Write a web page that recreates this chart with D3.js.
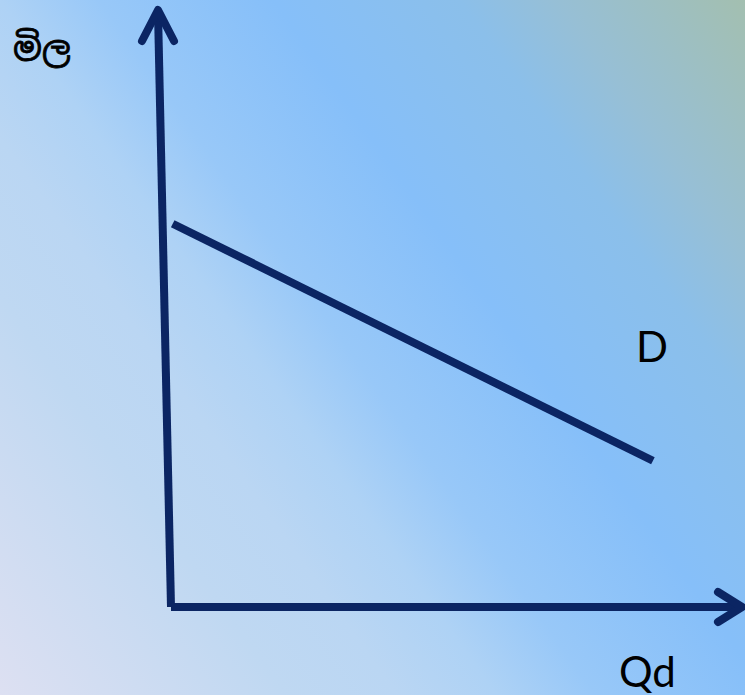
<!DOCTYPE html>
<html>
<head>
<meta charset="utf-8">
<script src="https://cdn.jsdelivr.net/npm/d3@7"></script>
<style>
  html, body { margin: 0; padding: 0; overflow: hidden; }
  svg { display: block; }
</style>
</head>
<body>
<div id="chart"><svg></svg></div>
<script>
// demand line (quantity 0-100, price 0-100)
const demandQty = [0.3, 84.4];
const demandPrice = [64.2, 24.5];

const axisLabels = ['මිල', 'Qd'];
const curveLabel = 'D';

const bgStops = [
  [0.00, '#dde0f2'],
  [0.23, '#bfd8f2'],
  [0.32, '#bad6f3'],
  [0.40, '#aed2f5'],
  [0.48, '#98c8f8'],
  [0.62, '#86bff9'],
  [0.77, '#8bbfea'],
  [0.85, '#97bfd5'],
  [1.00, '#a3bfb0']
];

(function() {
  const width = 745;
  const height = 695;
  const ink = '#0b2563';
  const margin = { left: 171, right: 3, top: 10, bottom: 88 };

  const svg = d3.select('#chart svg')
    .attr('width', width)
    .attr('height', height);

  const grad = svg.append('defs').append('linearGradient')
    .attr('id', 'bg')
    .attr('gradientUnits', 'userSpaceOnUse')
    .attr('x1', 0).attr('y1', height)
    .attr('x2', 822).attr('y2', 108);
  grad.selectAll('stop')
    .data(bgStops)
    .enter().append('stop')
    .attr('offset', d => d[0])
    .attr('stop-color', d => d[1]);

  svg.append('rect')
    .attr('width', width)
    .attr('height', height)
    .attr('fill', 'url(#bg)');

  const x = d3.scaleLinear().domain([0, 100]).range([margin.left, width - margin.right]);
  const y = d3.scaleLinear().domain([0, 100]).range([height - margin.bottom, margin.top]);

  // the hand-drawn price axis leans a little to the left at the top
  const lean = 13;

  const axes = svg.append('g').attr('class', 'axes')
    .attr('stroke', ink)
    .attr('fill', 'none')
    .attr('stroke-width', 8);

  axes.append('line')
    .attr('x1', x(0)).attr('y1', y(0))
    .attr('x2', x(0) - lean).attr('y2', y(100) + 2);

  axes.append('line')
    .attr('x1', x(0)).attr('y1', y(0))
    .attr('x2', x(100) - 2).attr('y2', y(0));

  // arrow heads
  axes.append('polyline')
    .attr('stroke-linecap', 'round')
    .attr('stroke-linejoin', 'round')
    .attr('points', [
      [x(0) - lean - 16, y(100) + 31],
      [x(0) - lean, y(100)],
      [x(0) - lean + 16, y(100) + 31]
    ].join(' '));

  axes.append('polyline')
    .attr('stroke-linecap', 'round')
    .attr('stroke-linejoin', 'round')
    .attr('points', [
      [x(100) - 24, y(0) - 15],
      [x(100), y(0)],
      [x(100) - 24, y(0) + 15]
    ].join(' '));

  const line = d3.line()
    .x(d => x(d[0]))
    .y(d => y(d[1]));

  svg.append('path')
    .datum(d3.zip(demandQty, demandPrice))
    .attr('d', line)
    .attr('fill', 'none')
    .attr('stroke', ink)
    .attr('stroke-width', 8);

  svg.append('text')
    .attr('x', 13)
    .attr('y', 61)
    .style('font-family', '"Noto Sans Sinhala", "Iskoola Pota", "Noto Sans", sans-serif')
    .style('font-size', '34px')
    .attr('fill', '#000')
    .attr('stroke', '#000')
    .attr('stroke-width', 0.8)
    .text(axisLabels[0]);

  svg.append('text')
    .attr('x', 636)
    .attr('y', 362)
    .style('font-family', 'Lato, "Open Sans", sans-serif')
    .style('font-size', '42px')
    .attr('fill', '#000')
    .text(curveLabel);

  svg.append('text')
    .attr('x', 619)
    .attr('y', 687)
    .style('font-family', 'Lato, "Open Sans", sans-serif')
    .style('font-size', '42px')
    .attr('fill', '#000')
    .text(axisLabels[1]);
})();
</script>
</body>
</html>
